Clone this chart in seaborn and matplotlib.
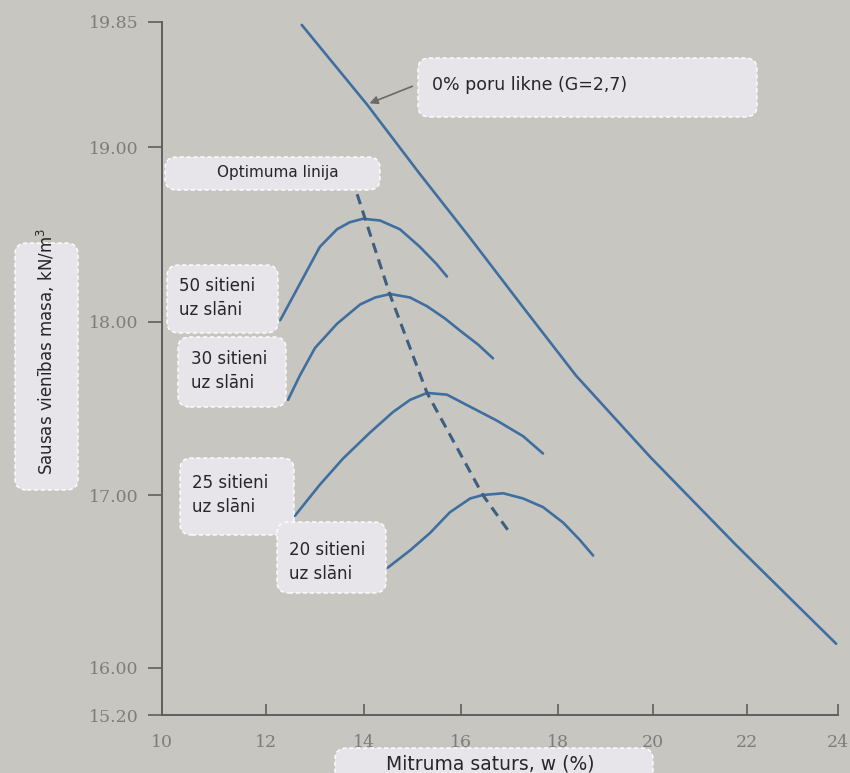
import numpy as np
import pandas as pd
import matplotlib
matplotlib.use("Agg")
import matplotlib.pyplot as plt
import seaborn as sns
from matplotlib.patches import FancyBboxPatch

# ---- data (w in %, dry unit weight in kN/m3) ----
zav_w = [12.73, 14.06, 15.14, 16.16, 17.32, 18.38, 19.94, 21.77, 23.96]
zav_g = [19.83, 19.29, 18.85, 18.49, 18.07, 17.69, 17.22, 16.71, 16.14]

b50_w = [12.29, 13.10, 13.45, 13.71, 13.98, 14.33, 14.74, 15.15, 15.50, 15.71]
b50_g = [18.01, 18.43, 18.53, 18.57, 18.59, 18.58, 18.53, 18.43, 18.33, 18.26]

b30_w = [12.45, 12.69, 13.00, 13.45, 13.92, 14.23, 14.54, 14.95, 15.30, 15.67,
         15.98, 16.35, 16.66]
b30_g = [17.55, 17.69, 17.85, 17.99, 18.10, 18.14, 18.16, 18.14, 18.09, 18.02,
         17.95, 17.87, 17.79]

b25_w = [12.59, 13.10, 13.57, 14.12, 14.60, 14.95, 15.30, 15.71, 16.19, 16.74,
         17.28, 17.69]
b25_g = [16.88, 17.06, 17.21, 17.36, 17.48, 17.55, 17.59, 17.58, 17.51, 17.43,
         17.34, 17.24]

b20_w = [14.49, 14.95, 15.36, 15.77, 16.19, 16.45, 16.87, 17.28, 17.69, 18.11,
         18.46, 18.74]
b20_g = [16.58, 16.68, 16.78, 16.90, 16.98, 17.00, 17.01, 16.98, 16.93, 16.84,
         16.74, 16.65]

opt_w = [13.86, 14.53, 15.30, 16.45, 17.01]
opt_g = [18.73, 18.16, 17.59, 17.00, 16.78]

x_ticks = [10, 12, 14, 16, 18, 20, 22, 24]
y_ticks = [15.20, 16.00, 17.00, 18.00, 19.00, 19.85]
y_tick_labels = ["15.20", "16.00", "17.00", "18.00", "19.00", "19.85"]

# the printed axes are not evenly spaced, so map ticks to their drawn positions
x_pos = [0, 104, 202, 299, 396, 491, 585, 676]
y_pos = [0, 47, 220, 393, 568, 693]

W, H = 850, 773
BG = "#c8c6c1"
LINE = "#3f6f9f"
BOX = "#e7e4ea"

sns.set_theme(style="white")
plt.rcParams["font.family"] = ["DejaVu Sans"]

fig = plt.figure(figsize=(W / 100, H / 100), dpi=100, facecolor=BG)
ax = fig.add_axes([162 / W, 1 - 715 / H, (838 - 162) / W, (715 - 22) / H])
ax.set_facecolor(BG)

ax.set_xscale("function", functions=(lambda v: np.interp(v, x_ticks, x_pos),
                                     lambda p: np.interp(p, x_pos, x_ticks)))
ax.set_yscale("function", functions=(lambda v: np.interp(v, y_ticks, y_pos),
                                     lambda p: np.interp(p, y_pos, y_ticks)))

curves = [(zav_w, zav_g), (b50_w, b50_g), (b30_w, b30_g), (b25_w, b25_g), (b20_w, b20_g)]
for w, g in curves:
    sns.lineplot(x=w, y=g, color=LINE, linewidth=1.9, ax=ax)
sns.lineplot(x=opt_w, y=opt_g, color="#3d5f80", linewidth=2.2, ax=ax,
             linestyle=(0, (3.4, 2.2)))

ax.set_xlim(10, 24)
ax.set_ylim(15.2, 19.85)
ax.set_xticks(x_ticks)
ax.set_xticklabels([str(t) for t in x_ticks])
ax.set_yticks(y_ticks)
ax.set_yticklabels(y_tick_labels)
ax.set_xlabel("")
ax.set_ylabel("")

for side in ["top", "right"]:
    ax.spines[side].set_visible(False)
for side in ["left", "bottom"]:
    ax.spines[side].set_color("#5f5f5f")
    ax.spines[side].set_linewidth(1.4)

ax.tick_params(axis="y", direction="out", length=10, width=1.2, color="#5f5f5f",
               pad=7, labelcolor="#7d7d7d", labelsize=12.5, left=True)
ax.tick_params(axis="x", direction="in", length=8, width=1.2, color="#5f5f5f",
               pad=14, labelcolor="#7d7d7d", labelsize=12.5, bottom=True)
for lab in ax.get_xticklabels() + ax.get_yticklabels():
    lab.set_fontfamily("DejaVu Serif")

# arrow pointing at the zero-air-voids line
ax.annotate("", xy=(14.06, 19.29), xytext=(15.05, 19.42),
            arrowprops=dict(arrowstyle="-|>", color="#6a6a6a", lw=1.2,
                            mutation_scale=12))


def label_box(x0, y0, x1, y1, text, tx, ty, ha="left", size=12, rot=0):
    """Draw a rounded dashed box and its text, given in pixel coordinates."""
    box = FancyBboxPatch((x0 / W, 1 - y1 / H), (x1 - x0) / W, (y1 - y0) / H,
                         boxstyle="round,pad=0,rounding_size=0.014",
                         transform=fig.transFigure, fc=BOX, ec="white",
                         lw=1.0, ls=(0, (3, 2)), zorder=5)
    fig.add_artist(box)
    fig.text(tx / W, 1 - ty / H, text, ha=ha, va="center", fontsize=size,
             color="#262626", rotation=rot, linespacing=1.45, zorder=6)


label_box(418, 58, 757, 117, "0% poru likne (G=2,7)", 432, 85, size=12.5)
label_box(165, 157, 380, 190, "Optimuma linija", 278, 173, ha="center", size=11)
label_box(167, 265, 278, 333, "50 sitieni\nuz slāni", 179, 298, size=12)
label_box(178, 337, 286, 407, "30 sitieni\nuz slāni", 191, 371, size=12)
label_box(180, 458, 294, 535, "25 sitieni\nuz slāni", 192, 495, size=12)
label_box(277, 522, 386, 593, "20 sitieni\nuz slāni", 289, 562, size=12)
label_box(15, 243, 78, 490, "Sausas vienības masa, kN/m$^3$", 46, 352,
          ha="center", size=12, rot=90)
label_box(335, 748, 653, 790, "Mitruma saturs, w (%)", 490, 764, ha="center", size=13.5)

fig.savefig("out.png", dpi=100, facecolor=BG)
